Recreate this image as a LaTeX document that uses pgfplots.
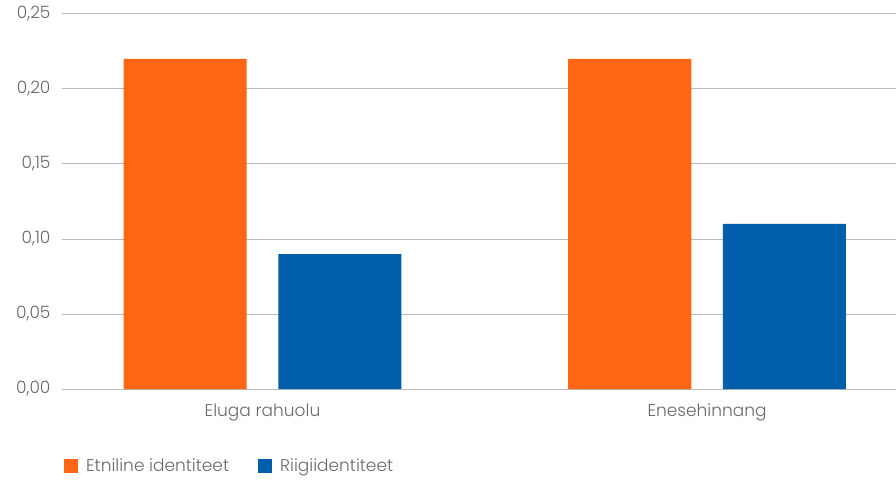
\documentclass[border=0pt]{standalone}
\usepackage{pgfplots}
\pgfplotsset{compat=1.18}
\usepackage{fontspec}
\setmainfont{Poppins}[UprightFont=* Light]
\definecolor{cOr}{RGB}{255,102,20}
\definecolor{cBl}{RGB}{0,94,170}
\definecolor{cTx}{RGB}{105,105,105}
\definecolor{cGr}{RGB}{185,185,185}
\begin{document}
\begin{tikzpicture}
\path[use as bounding box] (-62pt,-90pt) rectangle (834pt,389pt);
\begin{axis}[
  at={(0pt,0pt)}, anchor=south west,
  scale only axis, width=834pt, height=375pt,
  xmin=-0.451, xmax=1.425, ymin=0, ymax=0.25,
  xtick={0,1}, xticklabels={Eluga rahuolu, Enesehinnang},
  ytick={0,0.05,0.1,0.15,0.2,0.25},
  yticklabel style={/pgf/number format/use comma, /pgf/number format/fixed, /pgf/number format/fixed zerofill, /pgf/number format/precision=2, /pgf/number format/assume math mode=true, xshift=-8pt},
  ymajorgrids, grid style={cGr, line width=1pt},
  axis line style={draw=none},
  major tick length=0pt,
  tick label style={font=\fontsize{17}{20}\selectfont, text=cTx},
  xticklabel style={yshift=-11pt},
  legend style={at={(2/834,-77/375)}, anchor=west, draw=none, fill=none,
    inner sep=0pt, nodes={inner xsep=8pt},
    font=\fontsize{17}{20}\selectfont, text=cTx, legend columns=2,
    /tikz/every even column/.append style={column sep=21pt},
    legend cell align=left},
  legend image code/.code={\fill[#1] (0pt,-7pt) rectangle (14pt,7pt);},
]
\addplot[ybar, bar width=0.277, bar shift=-0.174, fill=cOr, draw=none] coordinates {(0,0.22) (1,0.22)};
\addplot[ybar, bar width=0.277, bar shift=0.174, fill=cBl, draw=none] coordinates {(0,0.09) (1,0.11)};
\legend{Etniline identiteet, Riigiidentiteet}
\end{axis}
\end{tikzpicture}
\end{document}
